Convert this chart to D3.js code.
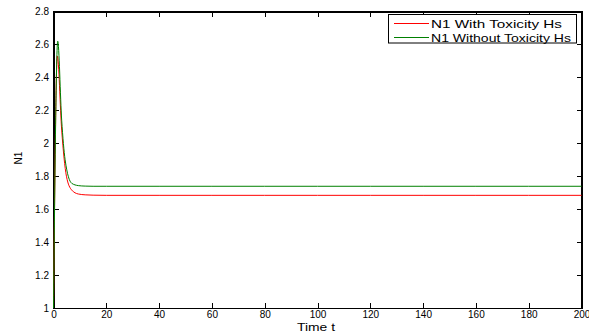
<!DOCTYPE html>
<html lang="en">
<head>
  <meta charset="UTF-8" />
  <title>N1 vs Time</title>
  <script src="https://d3js.org/d3.v7.min.js"></script>
  <style>
    body { margin: 0; background: #fff; font-family: "Liberation Sans", Arial, sans-serif; }
    .axis text { font-size: 10px; fill: #000; }
    .axis path, .axis line { stroke: #000; shape-rendering: crispEdges; }
  </style>
</head>
<body>
  <script>
    // values
    var timeWith = [0, 1.45, 3.1, 4.9, 6.9, 9.4, 12, 15, 20, 40, 60, 80, 100, 120, 140, 160, 180, 200];
    var n1With = [1.0, 2.53, 2.08, 1.80, 1.716, 1.692, 1.687, 1.685, 1.684, 1.684, 1.684, 1.684, 1.684, 1.684, 1.684, 1.684, 1.684, 1.684];
    var timeWithout = [0, 1.6, 3.1, 4.4, 6.9, 9.4, 12, 15, 20, 40, 60, 80, 100, 120, 140, 160, 180, 200];
    var n1Without = [1.0, 2.62, 2.14, 1.90, 1.757, 1.743, 1.740, 1.739, 1.739, 1.739, 1.739, 1.739, 1.739, 1.739, 1.739, 1.739, 1.739, 1.739];
    var xTicks = [0, 20, 40, 60, 80, 100, 120, 140, 160, 180, 200];
    var yTicks = [1, 1.2, 1.4, 1.6, 1.8, 2, 2.2, 2.4, 2.6, 2.8];
    var seriesNames = ["N1 With Toxicity Hs", "N1 Without Toxicity Hs"];
    var seriesColors = ["#ff0000", "#008000"];

    var width = 589, height = 336;
    var margin = { top: 11.5, right: 7.5, bottom: 28, left: 53.5 };
    var w = width - margin.left - margin.right;
    var h = height - margin.top - margin.bottom;

    var svg = d3.select("body").append("svg")
      .attr("width", width)
      .attr("height", height);

    var g = svg.append("g")
      .attr("transform", "translate(" + margin.left + "," + margin.top + ")");

    var x = d3.scaleLinear().domain([0, 200]).range([0, w]);
    var y = d3.scaleLinear().domain([1, 2.8]).range([h, 0]);

    var fmt = function (d) { return d3.format("")(+d.toFixed(1)); };

    // axes with inward ticks on all four sides
    g.append("g").attr("class", "axis")
      .attr("transform", "translate(0," + h + ")")
      .call(d3.axisBottom(x).tickValues(xTicks).tickSize(-5).tickPadding(3).tickFormat(fmt));
    g.append("g").attr("class", "axis")
      .call(d3.axisTop(x).tickValues(xTicks).tickSize(-5).tickFormat(""));
    g.append("g").attr("class", "axis")
      .call(d3.axisLeft(y).tickValues(yTicks).tickSize(-5).tickPadding(4.5).tickFormat(fmt));
    g.append("g").attr("class", "axis")
      .attr("transform", "translate(" + w + ",0)")
      .call(d3.axisRight(y).tickValues(yTicks).tickSize(-5).tickFormat(""));
    g.selectAll(".axis path").attr("stroke-width", 1.3);

    var datasets = [
      d3.zip(timeWith, n1With),
      d3.zip(timeWithout, n1Without)
    ];

    var line = d3.line()
      .x(function (d) { return x(d[0]); })
      .y(function (d) { return y(d[1]); })
      .curve(d3.curveMonotoneX);

    datasets.forEach(function (data, i) {
      g.append("path")
        .datum(data)
        .attr("fill", "none")
        .attr("stroke", seriesColors[i])
        .attr("stroke-width", 1)
        .attr("d", line);
    });

    // legend
    var legendLengths = [131, 140];
    var legend = svg.append("g").attr("transform", "translate(388.5,14.5)");
    legend.append("rect")
      .attr("width", 188).attr("height", 28.5)
      .attr("fill", "#fff").attr("stroke", "#000").attr("stroke-width", 1);
    seriesNames.forEach(function (name, i) {
      var ly = 9 + i * 14;
      legend.append("line")
        .attr("x1", 5.5).attr("x2", 40.5).attr("y1", ly).attr("y2", ly)
        .attr("stroke", seriesColors[i]).attr("stroke-width", 1);
      legend.append("text")
        .attr("x", 42.5).attr("y", ly + 4.2)
        .attr("textLength", legendLengths[i])
        .attr("lengthAdjust", "spacingAndGlyphs")
        .style("font-size", "10.5px")
        .text(name);
    });

    // axis labels
    svg.append("text")
      .attr("x", 316).attr("y", 330.5)
      .attr("text-anchor", "middle")
      .attr("textLength", 38)
      .attr("lengthAdjust", "spacingAndGlyphs")
      .style("font-size", "11px")
      .text("Time t");
    svg.append("text")
      .attr("transform", "translate(22,158) rotate(-90)")
      .attr("text-anchor", "middle")
      .style("font-size", "10px")
      .text("N1");
  </script>
</body>
</html>
